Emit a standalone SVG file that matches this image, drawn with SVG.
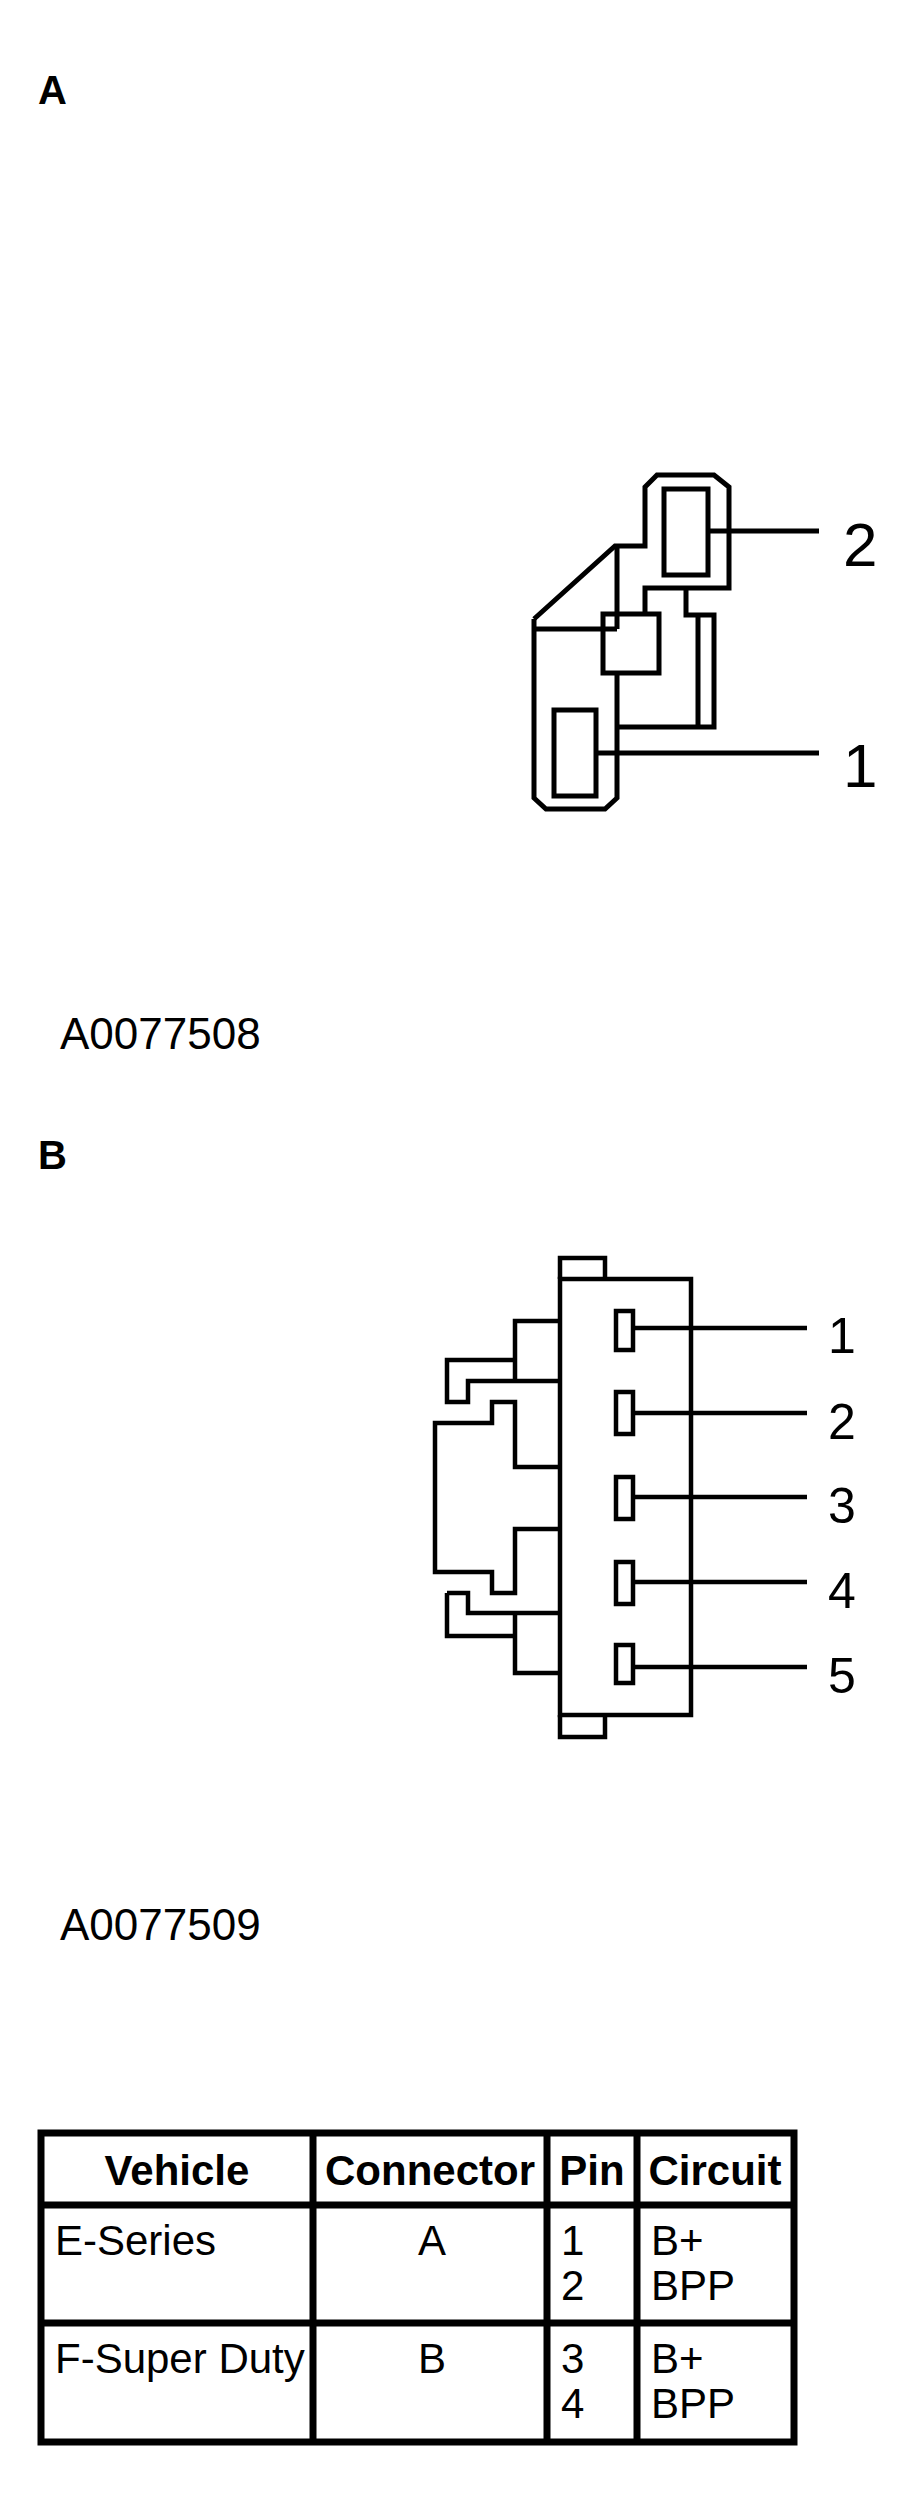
<svg xmlns="http://www.w3.org/2000/svg" width="913" height="2520" viewBox="0 0 913 2520">
<style>
.ln{fill:none;stroke:#000;stroke-width:5;stroke-linejoin:miter}
.lb{fill:none;stroke:#000;stroke-width:4.5}
.tb{fill:none;stroke:#000;stroke-width:7}
text{font-family:"Liberation Sans",Arial,sans-serif;fill:#000}
.h{font-weight:bold;font-size:40px}
.cap{font-size:44px}
.pl{font-size:62px}
.pb{font-size:50px}
.th{font-weight:bold;font-size:42px}
.td{font-size:42px}
</style>
<rect width="913" height="2520" fill="#fff"/>
<text class="h" x="38" y="104">A</text>
<g id="connA">
<path class="ln" d="M534,619 L615,546 H645 V487 L657,475 H714 L729,487 V588 H645 V614"/>
<path class="ln" d="M534,619 V798 L546,809 H605 L617,798 V673"/>
<path class="ln" d="M534,629 H617 M617,546 V629"/>
<rect class="ln" x="603" y="614" width="56" height="59"/>
<rect class="ln" x="664" y="489" width="44" height="86"/>
<rect class="ln" x="554" y="710" width="42" height="86"/>
<path class="ln" d="M686,588 V615 H714 V727 H617 M698,615 V727"/>
<path class="ln" d="M708,531 H819 M596,753 H819"/>
<text class="pl" x="843" y="566">2</text>
<text class="pl" x="843" y="787">1</text>
</g>
<text class="cap" x="60" y="1049">A0077508</text>
<text class="h" x="38" y="1169">B</text>
<g id="connB">
<rect class="lb" x="560" y="1279" width="131" height="436"/>
<path class="lb" d="M560,1279 V1258 H605 V1279 M560,1715 V1737 H605 V1715"/>
<rect class="lb" x="616" y="1311" width="17" height="39"/>
<rect class="lb" x="616" y="1392" width="17" height="42"/>
<rect class="lb" x="616" y="1477" width="17" height="42"/>
<rect class="lb" x="616" y="1562" width="17" height="42"/>
<rect class="lb" x="616" y="1645" width="17" height="38"/>
<path class="lb" d="M633,1328 H807 M633,1413 H807 M633,1497 H807 M633,1582 H807 M633,1667 H807"/>
<path class="lb" d="M560,1321 H515 V1381 M515,1360 H447 V1402 H468 V1381 H560"/>
<path class="lb" d="M560,1467 H515 V1402 H492 V1423 H435 V1572 H492 V1593 H515 V1529 H560"/>
<path class="lb" d="M447,1593 H468 V1613 H560 M447,1593 V1636 H515 M515,1613 V1673 H560"/>
<text class="pb" x="828" y="1353">1</text>
<text class="pb" x="828" y="1439">2</text>
<text class="pb" x="828" y="1523">3</text>
<text class="pb" x="828" y="1608">4</text>
<text class="pb" x="828" y="1693">5</text>
</g>
<text class="cap" x="60" y="1940">A0077509</text>
<g id="table">
<rect class="tb" x="41" y="2133" width="753" height="309"/>
<path class="tb" d="M41,2205 H794 M41,2323 H794 M313,2133 V2442 M547,2133 V2442 M637,2133 V2442"/>
<text class="th" x="177" y="2185" text-anchor="middle">Vehicle</text>
<text class="th" x="430" y="2185" text-anchor="middle">Connector</text>
<text class="th" x="592" y="2185" text-anchor="middle">Pin</text>
<text class="th" x="715" y="2185" text-anchor="middle">Circuit</text>
<text class="td" x="55" y="2255">E-Series</text>
<text class="td" x="432" y="2255" text-anchor="middle">A</text>
<text class="td" x="561" y="2255">1</text>
<text class="td" x="561" y="2300">2</text>
<text class="td" x="651" y="2255">B+</text>
<text class="td" x="651" y="2300">BPP</text>
<text class="td" x="55" y="2373">F-Super Duty</text>
<text class="td" x="432" y="2373" text-anchor="middle">B</text>
<text class="td" x="561" y="2373">3</text>
<text class="td" x="561" y="2418">4</text>
<text class="td" x="651" y="2373">B+</text>
<text class="td" x="651" y="2418">BPP</text>
</g>
</svg>
